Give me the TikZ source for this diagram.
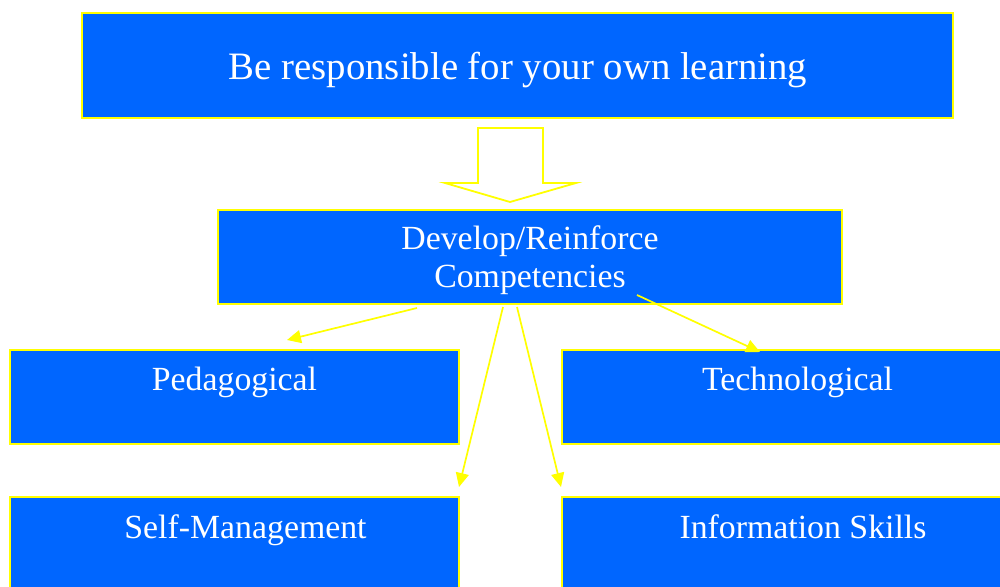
\documentclass[tikz,border=0pt]{standalone}
\usepackage{fontspec}
\setmainfont{Liberation Serif}
\usetikzlibrary{arrows.meta}
\definecolor{boxblue}{HTML}{0066FF}
\definecolor{edgeyellow}{HTML}{FFFF00}
\tikzset{
  box/.style={draw=edgeyellow, fill=boxblue, line width=0.9pt, rectangle, inner sep=0pt},
  bigtext/.style={text=white, font=\fontsize{19.4pt}{23pt}\selectfont, anchor=base, inner sep=0pt},
  smalltext/.style={text=white, font=\fontsize{16.9pt}{19pt}\selectfont, anchor=base, inner sep=0pt},
  link/.style={draw=edgeyellow, line width=0.85pt, -{Triangle[length=7pt, width=6.5pt]}},
  blockarrow/.style={draw=edgeyellow, fill=white, line width=0.9pt, line join=miter}
}
\begin{document}
\begin{tikzpicture}[x=0.5pt, y=-0.5pt]
  \useasboundingbox (0,0) rectangle (1000,587);
  \clip (0,0) rectangle (1000,587);

  % boxes
  \node[box, minimum width=435.5pt, minimum height=52.5pt] (goal) at (517.5,65.5) {};
  \node[box, minimum width=312pt, minimum height=47pt] (dev) at (530,257) {};
  \node[box, minimum width=224.5pt, minimum height=47pt] (ped) at (234.5,397) {};
  \node[box, minimum width=236pt, minimum height=47pt] (tech) at (798,397) {};
  \node[box, minimum width=224.5pt, minimum height=60pt] (self) at (234.5,557) {};
  \node[box, minimum width=236pt, minimum height=60pt] (info) at (798,557) {};

  % labels
  \node[bigtext] (goaltxt) at (518,80) {Be responsible for your own learning};
  \node[smalltext] (devtxt1) at (530,250) {Develop/Reinforce};
  \node[smalltext] (devtxt2) at (530,288) {Competencies};
  \node[smalltext] (pedtxt) at (234.5,390) {Pedagogical};
  \node[smalltext] (techtxt) at (797.5,390) {Technological};
  \node[smalltext] (selftxt) at (245.5,538) {Self-Management};
  \node[smalltext] (infotxt) at (803,538) {Information Skills};

  % hollow block arrow between the two upper boxes
  \draw[blockarrow] (478,128) -- (543,128) -- (543,183) -- (576,183) -- (510,202)
        -- (445,183) -- (478,183) -- cycle;

  % connector end points
  \coordinate (d1) at (417,308);
  \coordinate (d2) at (637,295);
  \coordinate (d3) at (503,307);
  \coordinate (d4) at (517,307);
  \coordinate (t1) at (287,340);
  \coordinate (t2) at (760,352);
  \coordinate (t3) at (459,487);
  \coordinate (t4) at (561,487);

  \draw[link] (d1) -- (t1);
  \draw[link] (d2) -- (t2);
  \draw[link] (d3) -- (t3);
  \draw[link] (d4) -- (t4);
\end{tikzpicture}
\end{document}
